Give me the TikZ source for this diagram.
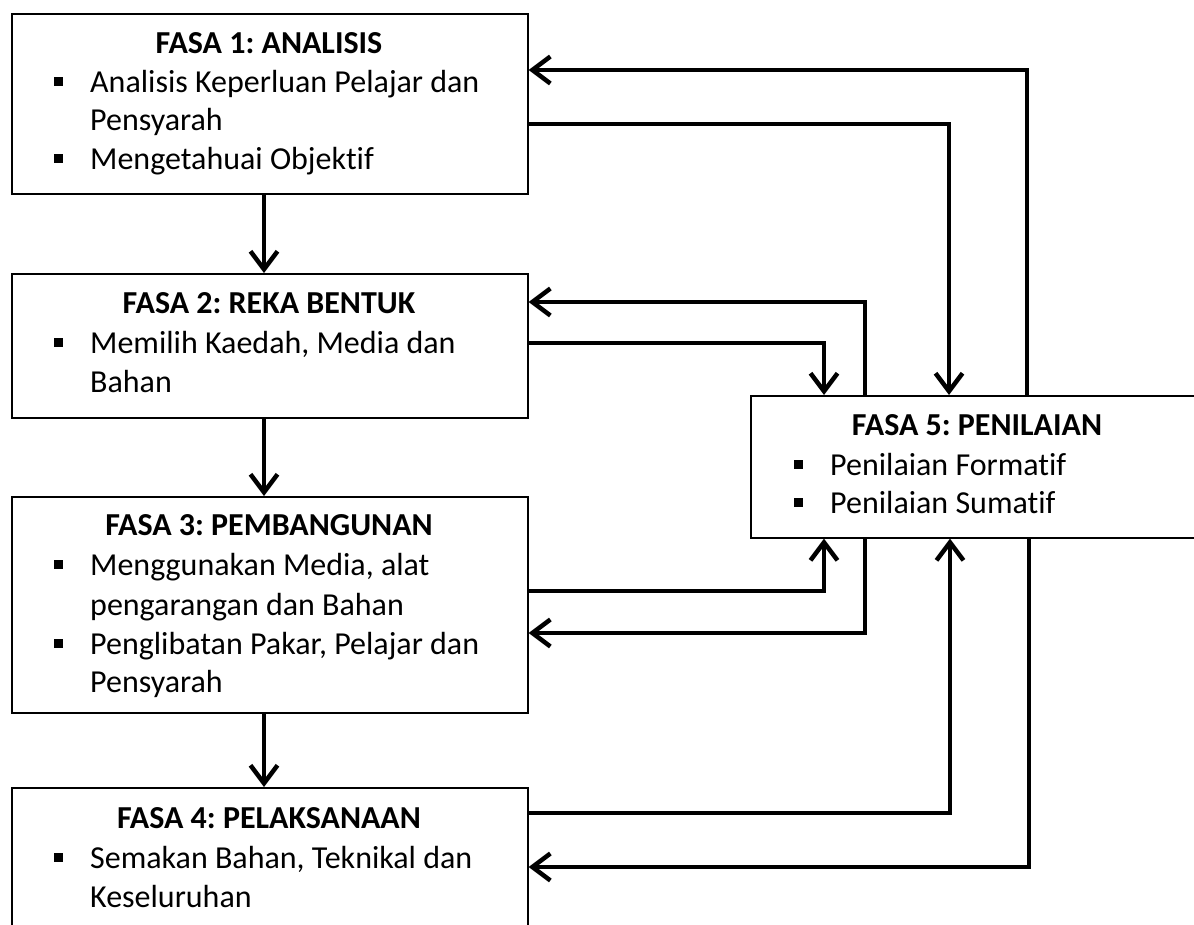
\documentclass[tikz,border=0pt]{standalone}
\usepackage{fontspec}
\setmainfont[Ligatures=NoCommon]{Carlito}
\usetikzlibrary{arrows.meta}
\newcommand{\bul}{\makebox[36.5pt][l]{\raisebox{6.5pt}{\rule{9pt}{9pt}}}}
\frenchspacing
\begin{document}
\begin{tikzpicture}[x=1pt,y=-1pt,
  box/.style={draw, line width=1.6pt, rectangle, inner sep=0pt, anchor=north west},
  ttl/.style={font=\fontsize{32}{39}\selectfont\bfseries, anchor=base, inner sep=0pt},
  itm/.style={font=\fontsize{32}{39}\selectfont, anchor=base west, inner sep=0pt},
  conn/.style={line width=4.5pt, -{Straight Barb[length=18pt,width=27pt]}}]
\useasboundingbox (0,0) rectangle (1194,924);
\clip (0,0) rectangle (1194,924);
% boxes
\node[box, minimum width=516pt, minimum height=180pt] (b1) at (11,13) {};
\node[box, minimum width=516pt, minimum height=144pt] (b2) at (11,273) {};
\node[box, minimum width=516pt, minimum height=216pt] (b3) at (11,496) {};
\node[box, minimum width=516pt, minimum height=160pt] (b4) at (11,787) {};
\node[box, minimum width=454pt, minimum height=142pt] (b5) at (750,395) {};
% texts box 1
\node[ttl] (t1) at (269,53) {FASA 1: ANALISIS};
\node[itm] (t1a) at (53.5,92) {\bul Analisis Keperluan Pelajar dan};
\node[itm] (t1b) at (90,130) {Pensyarah};
\node[itm] (t1c) at (53.5,169) {\bul Mengetahuai Objektif};
% box 2
\node[ttl] (t2) at (269,313) {FASA 2: REKA BENTUK};
\node[itm] (t2a) at (53.5,353) {\bul Memilih Kaedah, Media dan};
\node[itm] (t2b) at (90,392) {Bahan};
% box 3
\node[ttl] (t3) at (269,535) {FASA 3: PEMBANGUNAN};
\node[itm] (t3a) at (53.5,575) {\bul Menggunakan Media, alat};
\node[itm] (t3b) at (90,615) {pengarangan dan Bahan};
\node[itm] (t3c) at (53.5,654) {\bul Penglibatan Pakar, Pelajar dan};
\node[itm] (t3d) at (90,692) {Pensyarah};
% box 4
\node[ttl] (t4) at (269,828) {FASA 4: PELAKSANAAN};
\node[itm] (t4a) at (53.5,868) {\bul Semakan Bahan, Teknikal dan};
\node[itm] (t4b) at (90,907) {Keseluruhan};
% box 5
\node[ttl] (t5) at (977,435) {FASA 5: PENILAIAN};
\node[itm] (t5a) at (793.5,475) {\bul Penilaian Formatif};
\node[itm] (t5b) at (793.5,513) {\bul Penilaian Sumatif};
% corner coordinates
\coordinate (k1) at (1027,70);
\coordinate (k2) at (949,124);
\coordinate (k3) at (865,302);
\coordinate (k4) at (824,343);
\coordinate (k5) at (824,591);
\coordinate (k6) at (865,633);
\coordinate (k7) at (950,813);
\coordinate (k8) at (1029,867);
\coordinate (v) at (264,0);
% vertical flow
\draw[conn] (b1.south -| v) -- (b2.north -| v);
\draw[conn] (b2.south -| v) -- (b3.north -| v);
\draw[conn] (b3.south -| v) -- (b4.north -| v);
% feedback connectors
\draw[conn] (b5.north -| k1) |- (b1.east |- k1);
\draw[conn] (b1.east |- k2) -| (b5.north -| k2);
\draw[conn] (b5.north -| k3) |- (b2.east |- k3);
\draw[conn] (b2.east |- k4) -| (b5.north -| k4);
\draw[conn] (b3.east |- k5) -| (b5.south -| k5);
\draw[conn] (b5.south -| k6) |- (b3.east |- k6);
\draw[conn] (b4.east |- k7) -| (b5.south -| k7);
\draw[conn] (b5.south -| k8) |- (b4.east |- k8);
\end{tikzpicture}
\end{document}
